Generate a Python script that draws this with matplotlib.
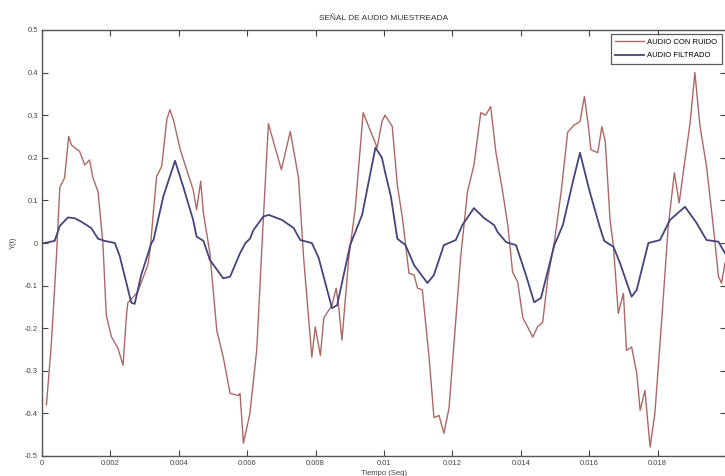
import matplotlib
matplotlib.use("Agg")
import matplotlib.pyplot as plt
from matplotlib.ticker import FuncFormatter

# time in ms
t_ruido = [0.13, 0.27, 0.42, 0.52, 0.66, 0.78, 0.86, 1.10, 1.25, 1.39, 1.49, 1.64, 1.78, 1.88,
           2.03, 2.22, 2.37, 2.47, 2.51, 2.80, 3.10, 3.16, 3.35, 3.50, 3.65, 3.74, 3.84, 4.04,
           4.23, 4.42, 4.52, 4.64, 4.72, 4.91, 5.11, 5.30, 5.50, 5.74, 5.79, 5.89, 6.08, 6.28,
           6.47, 6.62, 7.00, 7.26, 7.50, 7.65, 7.89, 7.99, 8.14, 8.24, 8.48, 8.60, 8.67, 8.77,
           8.97, 9.16, 9.39, 9.65, 9.80, 9.94, 10.03, 10.24, 10.39, 10.54, 10.73, 10.88, 10.98,
           11.12, 11.32, 11.46, 11.61, 11.75, 11.90, 12.05, 12.24, 12.44, 12.63, 12.83, 12.97,
           13.12, 13.27, 13.47, 13.62, 13.76, 13.91, 14.06, 14.20, 14.35, 14.49, 14.64, 14.79,
           14.98, 15.18, 15.37, 15.56, 15.73, 15.86, 15.96, 16.05, 16.25, 16.37, 16.47, 16.61,
           16.71, 16.85, 17.00, 17.09, 17.24, 17.39, 17.49, 17.63, 17.78, 17.92, 18.12, 18.31,
           18.49, 18.63, 18.80, 18.95, 19.09, 19.24, 19.43, 19.63, 19.78, 19.87, 19.97]
y_ruido = [-0.38, -0.24, -0.035, 0.13, 0.153, 0.25, 0.23, 0.215, 0.183, 0.195, 0.153, 0.12, 0.0, -0.17,
           -0.22, -0.247, -0.287, -0.17, -0.14, -0.115, -0.05, -0.016, 0.156, 0.18, 0.29, 0.313, 0.29, 0.22,
           0.172, 0.125, 0.078, 0.145, 0.07, -0.024, -0.205, -0.268, -0.353, -0.358, -0.353, -0.47, -0.40, -0.25,
           0.054, 0.28, 0.172, 0.262, 0.153, -0.035, -0.268, -0.197, -0.264, -0.176, -0.146, -0.106, -0.146, -0.228,
           -0.035, 0.082, 0.306, 0.254, 0.224, 0.285, 0.30, 0.274, 0.136, 0.058, -0.071, -0.075, -0.106,
           -0.11, -0.27, -0.41, -0.405, -0.447, -0.388, -0.233, -0.035, 0.12, 0.183, 0.306, 0.30,
           0.32, 0.214, 0.12, 0.042, -0.068, -0.092, -0.176, -0.197, -0.221, -0.197, -0.186, -0.082,
           0.002, 0.12, 0.26, 0.277, 0.285, 0.344, 0.285, 0.219, 0.212, 0.273, 0.238, 0.054,
           -0.009, -0.165, -0.118, -0.252, -0.244, -0.306, -0.393, -0.346, -0.479, -0.40, -0.181, 0.038,
           0.165, 0.094, 0.195, 0.282, 0.40, 0.274, 0.18, 0.038, -0.079, -0.094, -0.047]

t_filtrado = [0.0, 0.08, 0.37, 0.52, 0.76, 0.96, 1.15, 1.44, 1.64, 1.83, 2.13, 2.27, 2.61, 2.71,
              2.90, 3.20, 3.26, 3.55, 3.89, 4.13, 4.42, 4.52, 4.72, 4.91, 5.30, 5.50, 5.79, 5.95,
              6.08, 6.18, 6.47, 6.63, 7.02, 7.36, 7.55, 7.89, 8.09, 8.48, 8.63, 9.01, 9.36, 9.75,
              9.94, 10.05, 10.20, 10.39, 10.63, 10.88, 11.27, 11.46, 11.75, 12.10, 12.29, 12.63, 12.92,
              13.22, 13.32, 13.57, 13.86, 14.15, 14.39, 14.59, 14.98, 15.23, 15.52, 15.73, 16.00,
              16.30, 16.44, 16.71, 16.90, 17.24, 17.39, 17.73, 18.07, 18.36, 18.80, 19.14, 19.43,
              19.78, 19.97]
y_filtrado = [0.0, 0.0, 0.005, 0.04, 0.06, 0.058, 0.05, 0.035, 0.01, 0.005, 0.0, -0.03, -0.14, -0.143,
              -0.075, 0.0, 0.007, 0.11, 0.193, 0.132, 0.054, 0.015, 0.005, -0.04, -0.083, -0.079, -0.024, 0.0,
              0.01, 0.03, 0.062, 0.066, 0.054, 0.035, 0.007, 0.0, -0.035, -0.153, -0.146, -0.005, 0.066, 0.224,
              0.2, 0.16, 0.11, 0.01, -0.005, -0.052, -0.094, -0.075, -0.005, 0.007, 0.042, 0.082, 0.059,
              0.042, 0.026, 0.002, -0.005, -0.075, -0.139, -0.129, -0.005, 0.042, 0.143, 0.212, 0.125,
              0.04, 0.005, -0.009, -0.047, -0.126, -0.11, 0.0, 0.007, 0.054, 0.085, 0.047, 0.007,
              0.003, -0.024]

x_ticks = [0, 0.002, 0.004, 0.006, 0.008, 0.01, 0.012, 0.014, 0.016, 0.018, 0.02]
y_ticks = [-0.5, -0.4, -0.3, -0.2, -0.1, 0, 0.1, 0.2, 0.3, 0.4, 0.5]

plt.rcParams['font.family'] = ['Liberation Sans', 'DejaVu Sans']

fig = plt.figure(figsize=(7.25, 4.76), dpi=100)
ax = fig.add_axes([42 / 725, 20 / 476, 684 / 725, 426 / 476])

ax.plot([t / 1000 for t in t_ruido], y_ruido, color='#ad6866', lw=1.0, label='AUDIO CON RUIDO')
ax.plot([t / 1000 for t in t_filtrado], y_filtrado, color='#44447e', lw=1.3, label='AUDIO FILTRADO')

ax.set_xlim(0, 0.02)
ax.set_ylim(-0.5, 0.5)
ax.set_xticks(x_ticks)
ax.set_yticks(y_ticks)
# last x label (0.02) falls off the right edge of the picture, so leave it blank
ax.xaxis.set_major_formatter(FuncFormatter(lambda v, p: '' if v > 0.019 else '%g' % round(v, 4)))
ax.yaxis.set_major_formatter(FuncFormatter(lambda v, p: '%g' % round(v, 4)))
ax.tick_params(direction='in', top=True, right=True, length=4, width=0.8,
               labelsize=5.5, colors='#444444', pad=3)
for s in ax.spines.values():
    s.set_color('#555555')
    s.set_linewidth(1.0)

ax.set_title('SEÑAL DE AUDIO MUESTREADA', fontsize=6, color='#333333', pad=7)
ax.set_xlabel('Tiempo (Seg)', fontsize=5.5, color='#444444', labelpad=2)
ax.set_ylabel('Y(t)', fontsize=5.5, color='#444444', labelpad=6)

leg = ax.legend(loc='upper right', fontsize=5.5, frameon=True, fancybox=False,
                handlelength=3.8, handletextpad=0.4, borderpad=0.6, labelspacing=0.8,
                borderaxespad=0.5)
leg.get_frame().set_edgecolor('#333333')
leg.get_frame().set_linewidth(0.9)

fig.savefig('out.png', dpi=100)
